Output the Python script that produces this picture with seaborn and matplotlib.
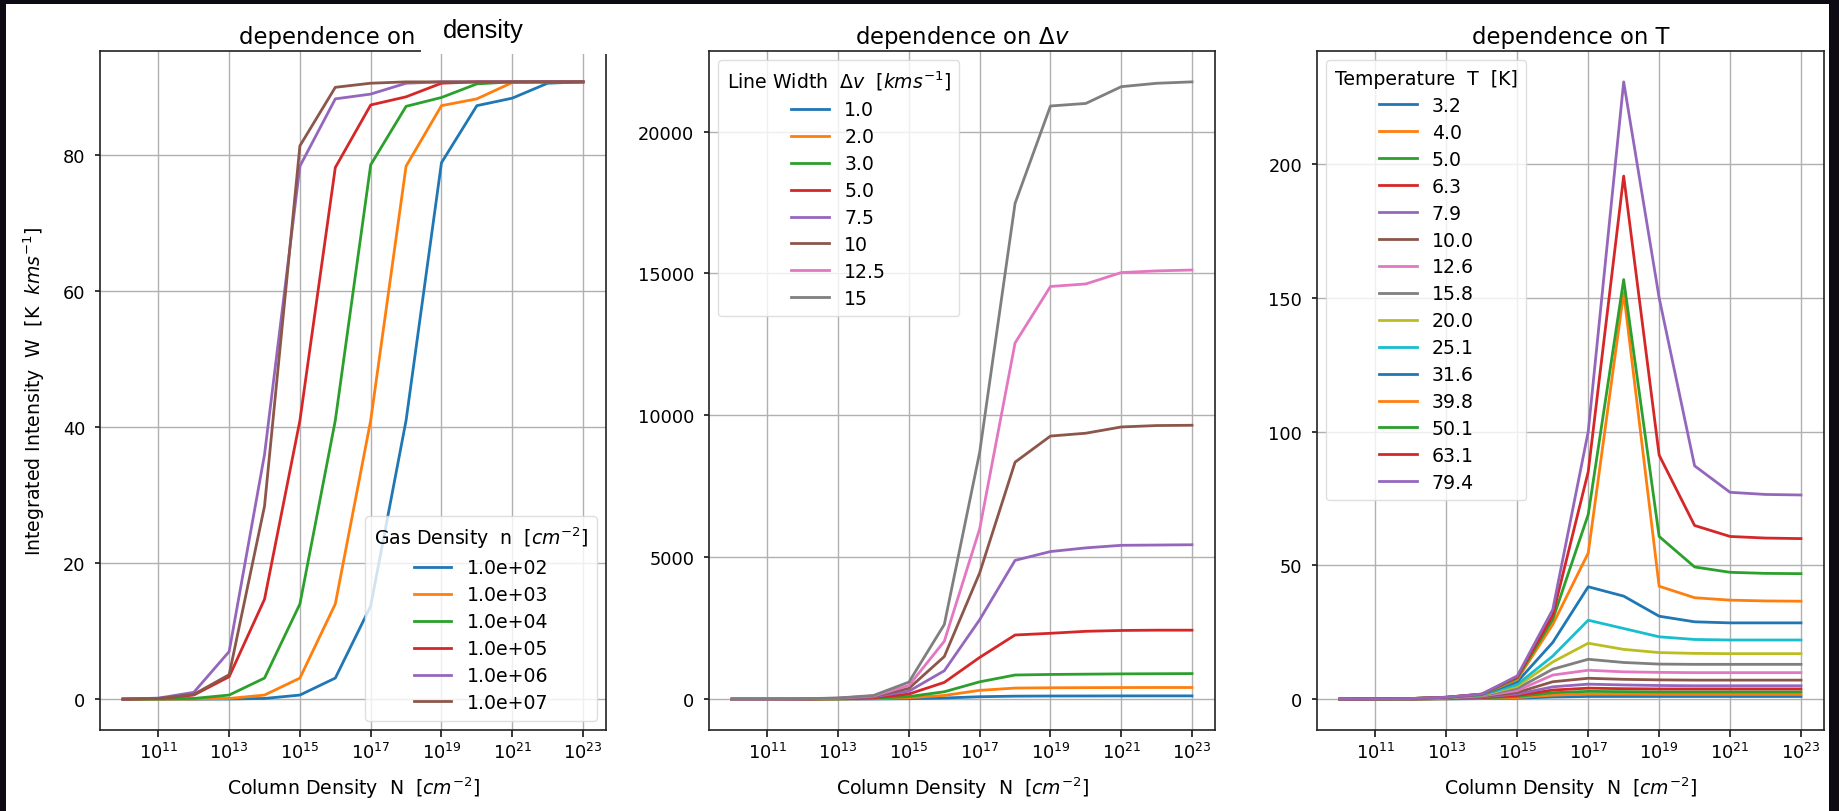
import matplotlib
matplotlib.use("Agg")
import matplotlib.pyplot as plt
from matplotlib.patches import Rectangle
from matplotlib.ticker import NullLocator
import pandas as pd
import seaborn as sns

# ---------------------------------------------------------------- data
column_density = [1e10, 1e11, 1e12, 1e13, 1e14, 1e15, 1e16,
                  1e17, 1e18, 1e19, 1e20, 1e21, 1e22, 1e23]

# integrated intensity vs. column density for several gas densities
density_labels = ["1.0e+02", "1.0e+03", "1.0e+04", "1.0e+05", "1.0e+06", "1.0e+07"]
w_density = [
    [0, 0, 0, 0.02, 0.1, 0.6, 3.1, 13.7, 41.0, 78.9, 87.3, 88.4, 90.6, 90.8],
    [0, 0, 0.02, 0.1, 0.6, 3.1, 14.0, 41.0, 78.4, 87.3, 88.3, 90.7, 90.8, 90.8],
    [0, 0.02, 0.1, 0.6, 3.1, 14.0, 41.0, 78.6, 87.2, 88.5, 90.5, 90.8, 90.8, 90.8],
    [0, 0.1, 0.6, 3.3, 14.7, 41.0, 78.2, 87.4, 88.6, 90.6, 90.8, 90.8, 90.8, 90.8],
    [0, 0.15, 1.0, 7.0, 36.0, 78.4, 88.3, 89.0, 90.6, 90.8, 90.8, 90.8, 90.8, 90.8],
    [0, 0.1, 0.7, 3.6, 28.4, 81.4, 90.0, 90.6, 90.8, 90.8, 90.8, 90.8, 90.8, 90.8],
]

# integrated intensity for several line widths
width_labels = ["1.0", "2.0", "3.0", "5.0", "7.5", "10", "12.5", "15"]
w_width = [
    [0, 0, 1, 3, 6, 15, 40, 85, 105, 110, 112, 114, 115, 115],
    [0, 1, 2, 6, 15, 50, 130, 310, 390, 400, 405, 408, 410, 410],
    [0, 1, 3, 10, 30, 90, 260, 610, 850, 870, 880, 890, 895, 900],
    [0, 1, 5, 15, 50, 180, 590, 1470, 2260, 2320, 2390, 2420, 2430, 2430],
    [0, 2, 8, 25, 80, 280, 1000, 2800, 4890, 5200, 5330, 5420, 5430, 5440],
    [0, 2, 10, 30, 100, 380, 1500, 4450, 8350, 9270, 9370, 9590, 9640, 9650],
    [0, 3, 12, 35, 110, 480, 2040, 6000, 12550, 14540, 14630, 15030, 15090, 15120],
    [0, 3, 14, 40, 130, 600, 2630, 8700, 17470, 20900, 20990, 21580, 21700, 21750],
]

# integrated intensity for several kinetic temperatures
temp_labels = ["3.2", "4.0", "5.0", "6.3", "7.9", "10.0", "12.6", "15.8",
               "20.0", "25.1", "31.6", "39.8", "50.1", "63.1", "79.4"]
w_temp = [
    [0, 0.01, 0.03, 0.08, 0.2, 0.35, 0.8, 1.0, 1.0, 1.0, 1.0, 1.0, 1.0, 1.0],
    [0, 0.01, 0.04, 0.12, 0.3, 0.6, 1.5, 1.9, 1.9, 1.8, 1.8, 1.8, 1.8, 1.8],
    [0, 0.02, 0.06, 0.18, 0.45, 1.0, 2.4, 2.9, 2.8, 2.7, 2.7, 2.7, 2.7, 2.7],
    [0, 0.02, 0.08, 0.25, 0.6, 1.4, 3.4, 4.1, 3.9, 3.8, 3.8, 3.8, 3.8, 3.8],
    [0, 0.03, 0.1, 0.3, 0.8, 1.9, 4.6, 5.6, 5.3, 5.1, 5.0, 5.0, 5.0, 5.0],
    [0, 0.03, 0.12, 0.4, 1.0, 2.5, 6.5, 7.8, 7.4, 7.2, 7.1, 7.1, 7.1, 7.1],
    [0, 0.04, 0.15, 0.45, 1.2, 3.2, 9.0, 10.8, 10.2, 10.0, 9.9, 9.9, 9.9, 9.9],
    [0, 0.04, 0.17, 0.5, 1.4, 4.0, 11.2, 14.9, 13.7, 13.1, 13.0, 13.0, 13.0, 13.0],
    [0, 0.05, 0.2, 0.55, 1.5, 4.8, 13.9, 20.9, 18.6, 17.4, 17.1, 17.0, 17.0, 17.0],
    [0, 0.05, 0.2, 0.6, 1.6, 5.5, 16.1, 29.5, 26.4, 23.3, 22.3, 22.1, 22.1, 22.1],
    [0, 0.05, 0.22, 0.65, 1.7, 6.5, 21.2, 42.0, 38.5, 31.0, 28.9, 28.5, 28.5, 28.5],
    [0, 0.05, 0.22, 0.7, 1.8, 7.4, 27.9, 54.6, 152.0, 42.2, 37.9, 37.0, 36.7, 36.6],
    [0, 0.05, 0.22, 0.7, 1.8, 7.9, 29.8, 69.0, 156.8, 60.8, 49.4, 47.4, 47.0, 46.9],
    [0, 0.05, 0.23, 0.7, 1.9, 8.3, 31.4, 85.0, 195.5, 91.2, 64.9, 60.8, 60.2, 60.0],
    [0, 0.05, 0.23, 0.7, 1.9, 8.7, 33.5, 100.0, 230.7, 150.0, 87.2, 77.3, 76.5, 76.3],
]

x_ticks = [1e11, 1e13, 1e15, 1e17, 1e19, 1e21, 1e23]
y_ticks_density = [0, 20, 40, 60, 80]
y_ticks_width = [0, 5000, 10000, 15000, 20000]
y_ticks_temp = [0, 50, 100, 150, 200]

# ---------------------------------------------------------------- style
plt.rcParams.update({
    "font.family": ["DejaVu Sans"],
    "axes.grid": True,
    "grid.color": "#b0b0b0",
    "grid.linewidth": 1.0,
    "axes.edgecolor": "#222222",
    "axes.linewidth": 1.2,
    "xtick.major.size": 5,
    "ytick.major.size": 3.6,
    "xtick.major.width": 1.1,
    "ytick.major.width": 1.1,
    "xtick.major.pad": 3.5,
    "ytick.major.pad": 7,
    "legend.framealpha": 0.8,
    "legend.edgecolor": "#d8d8d8",
})

TICK_FS = 12.8
LABEL_FS = 13.6
TITLE_FS = 16.4
LEGEND_FS = 13.6
LW = 2.0

base = sns.color_palette("tab10")


def long_frame(labels, series):
    rows = []
    for lab, vals in zip(labels, series):
        for n, w in zip(column_density, vals):
            rows.append({"N": n, "W": w, "label": lab})
    return pd.DataFrame(rows)


fig = plt.figure(figsize=(18.4, 8.12), dpi=100, facecolor="#0d0a13")
W_PX, H_PX = 1840.0, 812.0

# white canvas the three panels sit on
fig.add_artist(Rectangle((6 / W_PX, 0), (1829 - 6) / W_PX, (H_PX - 5) / H_PX,
                         transform=fig.transFigure, facecolor="white",
                         edgecolor="none", zorder=-10))

boxes = [(100, 606), (709, 1215), (1317, 1824)]
axes = []
for left, right in boxes:
    ax = fig.add_axes([left / W_PX, (H_PX - 731) / H_PX,
                       (right - left) / W_PX, (731 - 52) / H_PX])
    axes.append(ax)

panels = [
    (density_labels, w_density, y_ticks_density, "lower right",
     r"Gas Density  n  [$cm^{-2}$]"),
    (width_labels, w_width, y_ticks_width, "upper left",
     r"Line Width  $\Delta v$  [$kms^{-1}$]"),
    (temp_labels, w_temp, y_ticks_temp, "upper left",
     "Temperature  T  [K]"),
]

for ax, (labels, series, yt, loc, ltitle) in zip(axes, panels):
    df = long_frame(labels, series)
    pal = [base[i % 10] for i in range(len(labels))]
    sns.lineplot(data=df, x="N", y="W", hue="label", hue_order=labels,
                 palette=pal, ax=ax, linewidth=LW, sort=False, errorbar=None)
    ax.set_xscale("log")
    ax.set_xticks(x_ticks)
    ax.xaxis.set_minor_locator(NullLocator())
    ax.set_yticks(yt)
    ax.tick_params(labelsize=TICK_FS)
    ax.set_xlabel(r"Column Density  N  [$cm^{-2}$]", fontsize=LABEL_FS,
                  labelpad=9)
    ax.set_ylabel("")
    ax.set_axisbelow(True)
    sns.move_legend(ax, loc, title=ltitle, fontsize=LEGEND_FS,
                    title_fontsize=LEGEND_FS, frameon=True,
                    labelspacing=0.42, borderpad=0.45)

axes[0].set_ylabel(r"Integrated Intensity  W  [K  $kms^{-1}$]",
                   fontsize=LABEL_FS, labelpad=11)
axes[0].set_title("dependence on", fontsize=TITLE_FS, x=(327 - 100) / 506)
axes[1].set_title(r"dependence on $\Delta v$", fontsize=TITLE_FS)
axes[2].set_title("dependence on T", fontsize=TITLE_FS)

# caption label pasted over the first panel's heading
fig.add_artist(Rectangle((421 / W_PX, (H_PX - 55) / H_PX), 230 / W_PX, 50 / H_PX,
                         transform=fig.transFigure, facecolor="white",
                         edgecolor="none", zorder=20))
fig.text(443 / W_PX, 1 - 38 / H_PX, "density", fontsize=18.4,
         family=["Liberation Sans", "DejaVu Sans"], color="black",
         ha="left", va="baseline", zorder=21)

fig.savefig("out.png", dpi=100, facecolor=fig.get_facecolor())
